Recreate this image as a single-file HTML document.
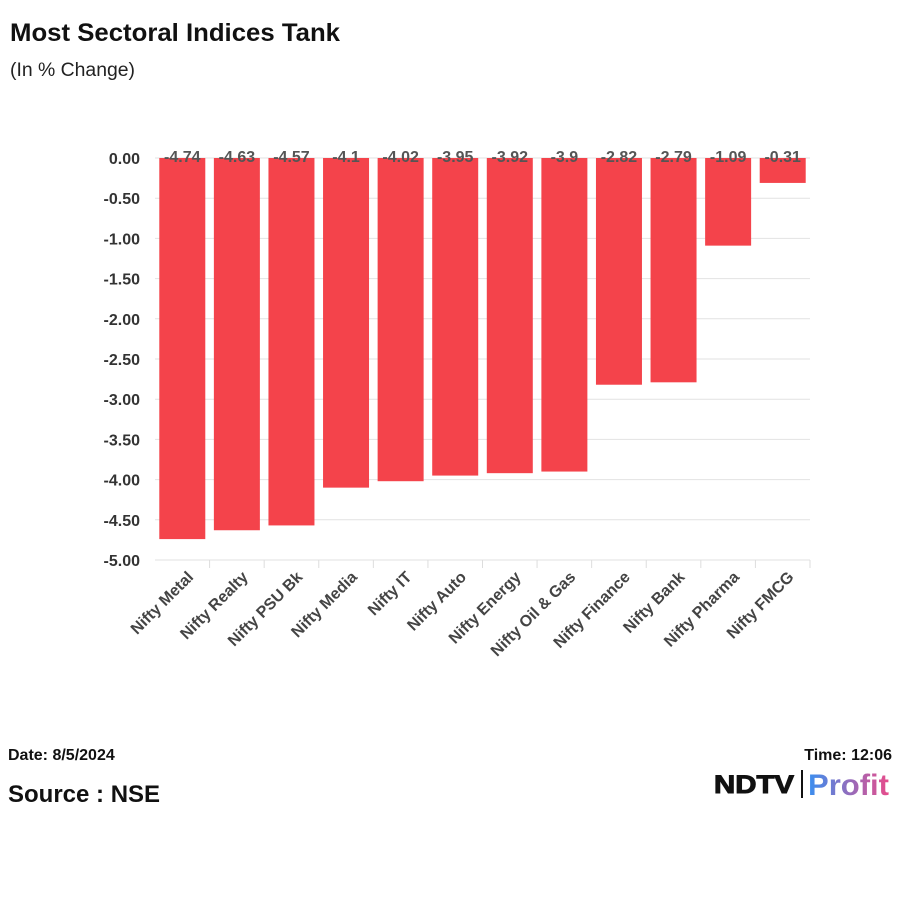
<!DOCTYPE html>
<html><head><meta charset="utf-8"><style>
body{margin:0;background:#fff;width:900px;height:900px;overflow:hidden;font-family:"Liberation Sans",sans-serif}
</style></head><body>
<svg width="900" height="900" xmlns="http://www.w3.org/2000/svg">
<text x="10" y="41" font-size="25" font-weight="bold" fill="#111" textLength="330" lengthAdjust="spacingAndGlyphs">Most Sectoral Indices Tank</text>
<text x="10" y="76" font-size="19" fill="#222" textLength="125" lengthAdjust="spacingAndGlyphs">(In % Change)</text>
<g id="grid"></g><g id="bars"></g><g id="labels"></g>
<text x="8" y="760" font-size="16" font-weight="bold" fill="#111">Date: 8/5/2024</text>
<text x="8" y="802" font-size="24" font-weight="bold" fill="#111">Source : NSE</text>
<text x="892" y="760" font-size="16" font-weight="bold" fill="#111" text-anchor="end">Time: 12:06</text>
<defs><linearGradient id="pg" x1="0" x2="1"><stop offset="0" stop-color="#3b8ff0"/><stop offset="1" stop-color="#e84c8b"/></linearGradient></defs>
<g>
<text x="714" y="793" font-size="25" font-weight="bold" fill="#111" stroke="#111" stroke-width="1" textLength="80" lengthAdjust="spacingAndGlyphs">NDTV</text>
<rect x="801" y="770" width="2" height="28" fill="#111"/>
<text x="808" y="795" font-size="30" font-weight="bold" fill="url(#pg)" textLength="81" lengthAdjust="spacingAndGlyphs">Profit</text>
</g>
</svg>
<script>
const categories=["Nifty Metal","Nifty Realty","Nifty PSU Bk","Nifty Media","Nifty IT","Nifty Auto","Nifty Energy","Nifty Oil & Gas","Nifty Finance","Nifty Bank","Nifty Pharma","Nifty FMCG"];
const values=[-4.74,-4.63,-4.57,-4.1,-4.02,-3.95,-3.92,-3.9,-2.82,-2.79,-1.09,-0.31];
const valueLabels=["-4.74","-4.63","-4.57","-4.1","-4.02","-3.95","-3.92","-3.9","-2.82","-2.79","-1.09","-0.31"];
const yTicks=[0,-0.5,-1,-1.5,-2,-2.5,-3,-3.5,-4,-4.5,-5];
const NS="http://www.w3.org/2000/svg";
const x0=155,x1=810,y0=158,yMin=-5,yBot=560;
const y=v=>y0+(v/yMin)*(yBot-y0);
const band=(x1-x0)/categories.length;
const xc=i=>x0+band*(i+0.5);
function mk(t,a){const e=document.createElementNS(NS,t);for(const k in a)e.setAttribute(k,a[k]);return e;}
const g=document.getElementById('grid');
yTicks.forEach(t=>{
 const l=mk('line',{x1:x0,x2:x1,y1:y(t),y2:y(t),stroke:'#e2e2e2','stroke-width':1});
 
 
 g.appendChild(l);
 const tx=mk('text',{x:140,y:y(t)+6,'text-anchor':'end','font-size':16,'font-weight':'bold',fill:'#333'});
 tx.textContent=t.toFixed(2);
 
 
 g.appendChild(tx);
});
const bg=document.getElementById('bars'),lg=document.getElementById('labels');
categories.forEach((c,i)=>{
 const w=46,top=y(0),h=y(values[i])-top;
 const r=mk('rect',{x:xc(i)-w/2,y:top,width:w,height:h,fill:'#f4434b'});
 
 
 bg.appendChild(r);
 const v=mk('text',{x:xc(i),y:162,'text-anchor':'middle','font-size':16,'font-weight':'bold',fill:'#555'});
 v.textContent=valueLabels[i];
 
 
 lg.appendChild(v);
 const tk=mk('line',{x1:x0+band*(i+1),x2:x0+band*(i+1),y1:yBot,y2:yBot+8,stroke:'#ddd'});
 
 
 lg.appendChild(tk);
 const cx=xc(i)+12,cy=578;
 const t=mk('text',{x:cx,y:cy,'text-anchor':'end','font-size':16,'font-weight':'bold',fill:'#444',transform:`rotate(-45 ${cx} ${cy})`});
 t.textContent=c;
 
 
 lg.appendChild(t);
});
</script>
</body></html>
